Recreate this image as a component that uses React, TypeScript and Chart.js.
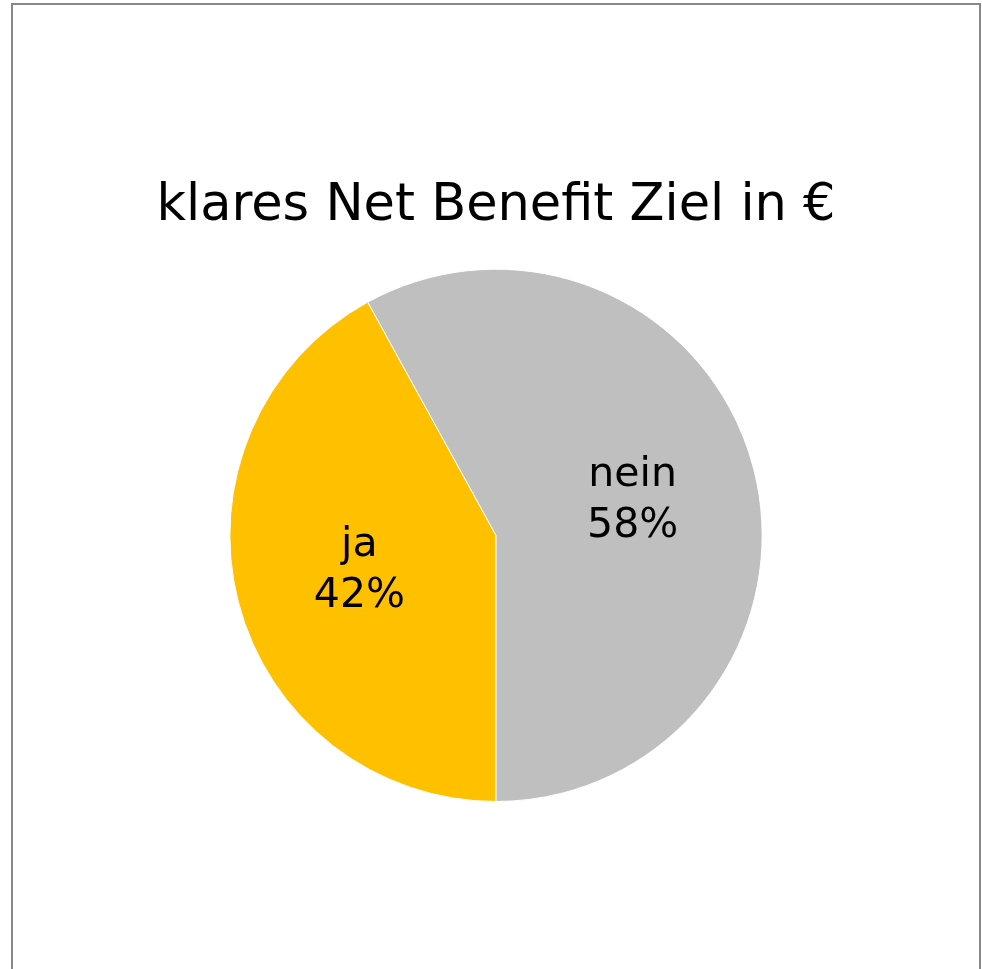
import React, { useEffect, useRef } from "react";
import { Chart, registerables } from "chart.js";

Chart.register(...registerables);

const titleText = "klares Net Benefit Ziel in €";
const categories = ["ja", "nein"];
const values = [42, 58];
const colors = ["#FFC000", "#BFBFBF"];

const FONT = "'DejaVu Sans', sans-serif";

const sliceLabels = {
  id: "sliceLabels",
  afterDatasetsDraw(chart: any) {
    const ctx = chart.ctx;
    const meta = chart.getDatasetMeta(0);
    const total = values.reduce((a, b) => a + b, 0);
    ctx.save();
    ctx.fillStyle = "#000";
    ctx.font = `41px ${FONT}`;
    ctx.textAlign = "center";
    ctx.textBaseline = "middle";
    meta.data.forEach((arc: any, i: number) => {
      const p = arc.getProps(["x", "y", "startAngle", "endAngle", "outerRadius"], true);
      const mid = (p.startAngle + p.endAngle) / 2;
      const r = p.outerRadius * 0.53;
      const cx = p.x + Math.cos(mid) * r;
      const cy = p.y + Math.sin(mid) * r;
      const pct = Math.round((values[i] / total) * 100) + "%";
      ctx.fillText(categories[i], cx, cy - 25);
      ctx.fillText(pct, cx, cy + 26);
    });
    ctx.restore();
  },
};

export default function App() {
  const ref = useRef<HTMLCanvasElement>(null);
  useEffect(() => {
    if (!ref.current) return;
    const chart = new Chart(ref.current, {
      type: "pie",
      data: {
        labels: categories,
        datasets: [
          {
            data: values,
            backgroundColor: colors,
            borderColor: "#ffffff",
            borderWidth: 1,
          },
        ],
      },
      options: {
        responsive: false,
        animation: false,
        rotation: 180,
        layout: { padding: { top: 0, bottom: 167, left: 0, right: 0 } },
        plugins: {
          legend: { display: false },
          tooltip: { enabled: false },
          title: {
            display: true,
            text: titleText,
            color: "#000",
            font: { family: FONT, size: 51, weight: "normal" },
            padding: { top: 171, bottom: 31.5 },
          },
        },
      },
      plugins: [sliceLabels],
    });
    return () => chart.destroy();
  }, []);
  return (
    <div
      style={{
        position: "absolute",
        left: 11,
        top: 3,
        width: 966,
        height: 1000,
        border: "2px solid #888",
        background: "#fff",
      }}
    >
      <canvas ref={ref} width={966} height={964} style={{ display: "block" }} />
    </div>
  );
}
